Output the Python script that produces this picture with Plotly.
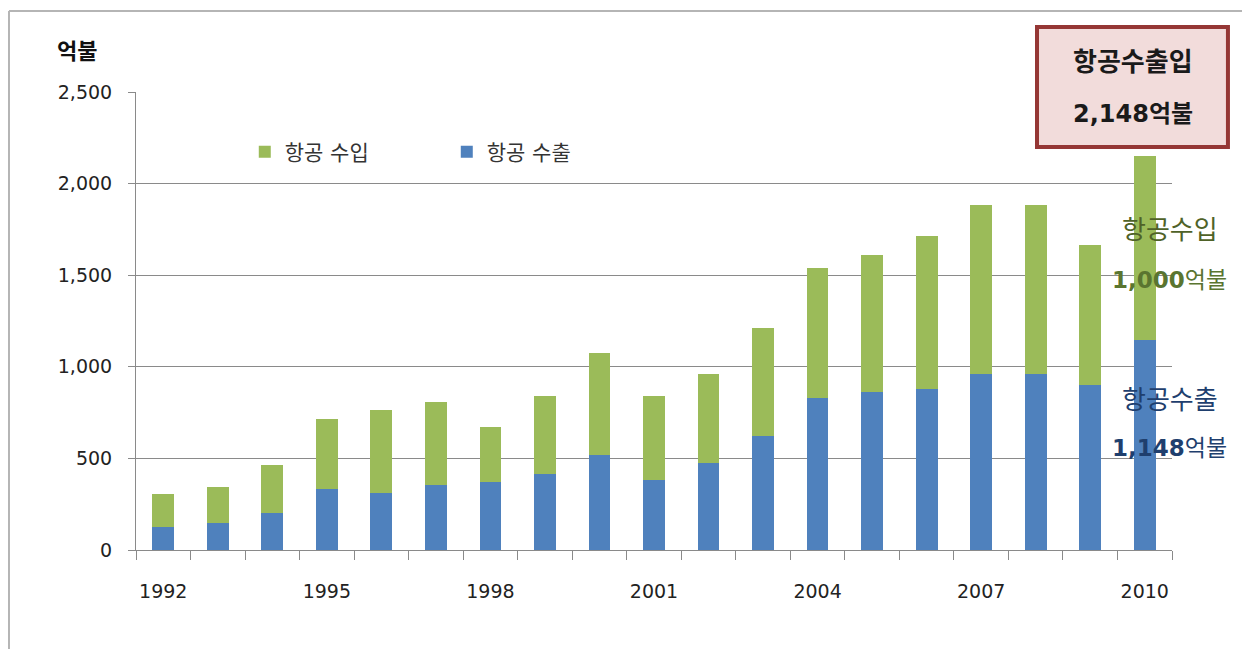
import plotly.graph_objects as go

# 항공 수출입 (억불), 1992-2010
years = list(range(1992, 2011))
exports = [128, 150, 202, 334, 312, 354, 372, 414, 518, 383, 476, 622, 827, 860, 878, 963, 963, 900, 1148]
imports = [176, 194, 263, 380, 453, 453, 300, 424, 556, 455, 487, 588, 711, 748, 834, 918, 918, 763, 1000]
label_years = [1992, 1995, 1998, 2001, 2004, 2007, 2010]

FONT = "DejaVu Sans, Noto Sans CJK KR"
GRID = "#8a8a8a"
BLUE = "#4f81bd"
GREEN = "#9bbb59"

fig = go.Figure()
fig.add_trace(go.Bar(x=years, y=exports, name="항공 수출", marker_color=BLUE,
                     marker_line_width=0, width=0.4))
fig.add_trace(go.Bar(x=years, y=imports, name="항공 수입", marker_color=GREEN,
                     marker_line_width=0, width=0.4))

# page body has an 8px margin, so the figure is 8px smaller each way
fig.update_layout(
    width=1242, height=641,
    margin=dict(l=128, r=78, t=84, b=99),
    barmode="stack",
    plot_bgcolor="white", paper_bgcolor="white",
    font=dict(family=FONT, size=19, color="#222222"),
    legend=dict(orientation="h", traceorder="reversed", x=0.105, y=0.869,
                yanchor="middle", xanchor="left", entrywidth=157, entrywidthmode="pixels",
                font=dict(size=21, color="#333333"), bgcolor="rgba(0,0,0,0)"),
)

fig.update_xaxes(range=[1991.5, 2010.5], tickmode="array", tickvals=label_years,
                 ticks="outside", ticklen=24, tickcolor="rgba(0,0,0,0)",
                 showline=True, linecolor=GRID, linewidth=1, showgrid=False, zeroline=False,
                 minor=dict(tickmode="linear", tick0=1991.5, dtick=1, ticks="outside",
                            ticklen=9, tickcolor=GRID, showgrid=False))
fig.update_yaxes(range=[0, 2500], dtick=500, tickformat=",", showgrid=True, gridcolor=GRID,
                 gridwidth=1, zeroline=False, showline=True, linecolor=GRID, linewidth=1,
                 ticks="outside", ticklen=7, tickcolor=GRID, ticklabelstandoff=12)

# outer frame of the original picture
fig.add_shape(type="line", xref="paper", yref="paper", x0=-0.1226, x1=1.08, y0=1.177, y1=1.177,
              line=dict(color="#b5b5b5", width=2))
fig.add_shape(type="line", xref="paper", yref="paper", x0=-0.1226, x1=-0.1226, y0=1.177, y1=-0.24,
              line=dict(color="#b5b5b5", width=2))

# total callout box
fig.add_shape(type="rect", xref="paper", yref="paper", x0=0.8697, x1=1.054, y0=0.880, y1=1.142,
              line=dict(color="#953735", width=4), fillcolor="#f2dcdb")

annots = [
    dict(x=-0.057, y=1.0895, text="<b>억불</b>", font=dict(size=22, color="#111111")),
    dict(x=0.962, y=1.0655, text="<b>항공수출입</b>", font=dict(size=26, color="#1a1a1a")),
    dict(x=0.962, y=0.952, text="<b>2,148억불</b>", font=dict(size=24, color="#1a1a1a")),
    dict(x=0.998, y=0.699, text="항공수입", font=dict(size=26, color="#4f6228")),
    dict(x=0.998, y=0.5895, text="<b>1,000</b>억불", font=dict(size=23, color="#5a7530")),
    dict(x=0.998, y=0.3275, text="항공수출", font=dict(size=26, color="#1f3f6e")),
    dict(x=0.998, y=0.2227, text="<b>1,148</b>억불", font=dict(size=23, color="#1f3f6e")),
]
for a in annots:
    fig.add_annotation(xref="paper", yref="paper", showarrow=False,
                       xanchor="center", yanchor="middle", **a)

fig.write_html("out.html")
